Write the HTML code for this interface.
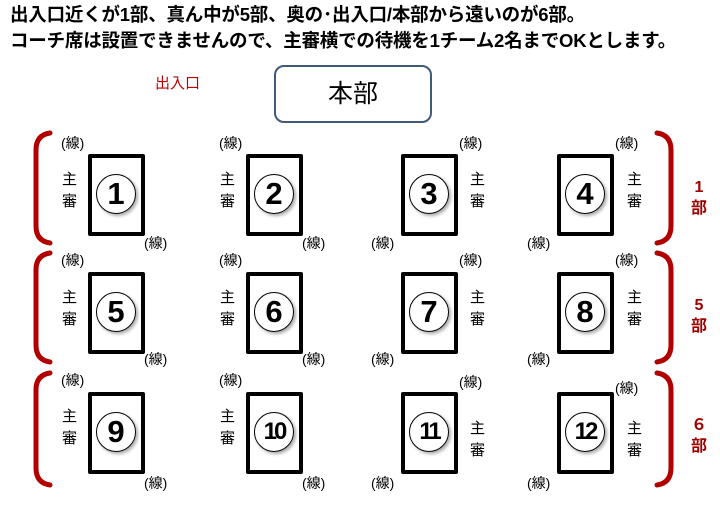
<!DOCTYPE html>
<html><head><meta charset="utf-8"><style>
body{margin:0;width:720px;height:519px;background:#fff;position:relative;overflow:hidden;font-family:"Liberation Sans","Noto Sans CJK JP",sans-serif;color:#000}
.a{position:absolute;white-space:nowrap}
.hd{font-size:18.5px;font-weight:bold;left:10px;letter-spacing:-0.2px}
.box{position:absolute;width:49px;height:74px;border:4px solid #000;border-radius:2px;background:#fff}
.c{position:absolute;left:4px;top:16px;width:38px;height:38px;border:1.5px solid #000;border-radius:50%;font-size:31px;font-weight:bold;line-height:38px;text-align:center;box-shadow:2px 2px 3px #aaa}
.c.s{font-size:24px;letter-spacing:-3px}
.l{position:absolute;font-size:14px;line-height:16px}
.sh{position:absolute;font-size:15px;line-height:22px;width:15px}
.bu{position:absolute;color:#a00000;font-weight:bold;font-size:16px;line-height:21px;text-align:center;width:20px}
</style></head><body>
<div class="a hd" style="top:1px">出入口近くが1部、真ん中が5部、奥の･出入口/本部から遠いのが6部。</div>
<div class="a hd" style="top:27px">コーチ席は設置できませんので、主審横での待機を1チーム2名までOKとします。</div>
<div class="a" style="left:155px;top:72px;color:#c00000;font-size:15px">出入口</div>
<div class="a" style="left:274px;top:65px;width:154px;height:54px;border:2.5px solid #41597a;border-radius:10px;text-align:center;line-height:54px;font-size:25px">本部</div>
<svg class="a" style="left:0;top:0" width="720" height="519">
<g fill="none" stroke="#b00000" stroke-width="5" stroke-linecap="round">
<path d="M50 133 Q36 135 36 150 L36 226 Q36 241 50 243"/>
<path d="M50 253 Q36 255 36 270 L36 345 Q36 360 50 362"/>
<path d="M50 373 Q36 375 36 390 L36 468 Q36 483 50 485"/>
<path d="M657 133 Q671 135 671 150 L671 226 Q671 241 657 243"/>
<path d="M657 253 Q671 255 671 270 L671 345 Q671 360 657 362"/>
<path d="M657 373 Q671 375 671 390 L671 468 Q671 483 657 485"/>
</g></svg>
<div class="bu" style="left:689px;top:177px">1<br>部</div>
<div class="bu" style="left:689px;top:295px">5<br>部</div>
<div class="bu" style="left:689px;top:415px">６<br>部</div>

<div class="box" style="left:88px;top:154px"><div class="c">1</div></div>
<div class="box" style="left:246px;top:154px"><div class="c">2</div></div>
<div class="box" style="left:401px;top:154px"><div class="c">3</div></div>
<div class="box" style="left:557px;top:154px"><div class="c">4</div></div>
<div class="box" style="left:88px;top:272px"><div class="c">5</div></div>
<div class="box" style="left:246px;top:272px"><div class="c">6</div></div>
<div class="box" style="left:401px;top:272px"><div class="c">7</div></div>
<div class="box" style="left:557px;top:272px"><div class="c">8</div></div>
<div class="box" style="left:88px;top:392px"><div class="c">9</div></div>
<div class="box" style="left:246px;top:392px"><div class="c s">10</div></div>
<div class="box" style="left:401px;top:392px"><div class="c s">11</div></div>
<div class="box" style="left:557px;top:392px"><div class="c s">12</div></div>

<div class="l" style="left:61px;top:135px">(線)</div><div class="l" style="left:144px;top:235px">(線)</div>
<div class="l" style="left:219px;top:135px">(線)</div><div class="l" style="left:302px;top:235px">(線)</div>
<div class="l" style="left:459px;top:135px">(線)</div><div class="l" style="left:371px;top:235px">(線)</div>
<div class="l" style="left:615px;top:135px">(線)</div><div class="l" style="left:527px;top:235px">(線)</div>
<div class="l" style="left:61px;top:252px">(線)</div><div class="l" style="left:144px;top:351px">(線)</div>
<div class="l" style="left:219px;top:252px">(線)</div><div class="l" style="left:302px;top:351px">(線)</div>
<div class="l" style="left:459px;top:252px">(線)</div><div class="l" style="left:371px;top:351px">(線)</div>
<div class="l" style="left:615px;top:252px">(線)</div><div class="l" style="left:527px;top:351px">(線)</div>
<div class="l" style="left:61px;top:372px">(線)</div><div class="l" style="left:144px;top:475px">(線)</div>
<div class="l" style="left:219px;top:372px">(線)</div><div class="l" style="left:302px;top:475px">(線)</div>
<div class="l" style="left:459px;top:374px">(線)</div><div class="l" style="left:371px;top:475px">(線)</div>
<div class="l" style="left:615px;top:380px">(線)</div><div class="l" style="left:527px;top:475px">(線)</div>

<div class="sh" style="left:62px;top:169px">主審</div>
<div class="sh" style="left:220px;top:169px">主審</div>
<div class="sh" style="left:470px;top:169px">主審</div>
<div class="sh" style="left:627px;top:169px">主審</div>
<div class="sh" style="left:62px;top:287px">主審</div>
<div class="sh" style="left:220px;top:287px">主審</div>
<div class="sh" style="left:470px;top:287px">主審</div>
<div class="sh" style="left:627px;top:287px">主審</div>
<div class="sh" style="left:62px;top:406px">主審</div>
<div class="sh" style="left:220px;top:406px">主審</div>
<div class="sh" style="left:470px;top:418px">主審</div>
<div class="sh" style="left:627px;top:418px">主審</div>
</body></html>
